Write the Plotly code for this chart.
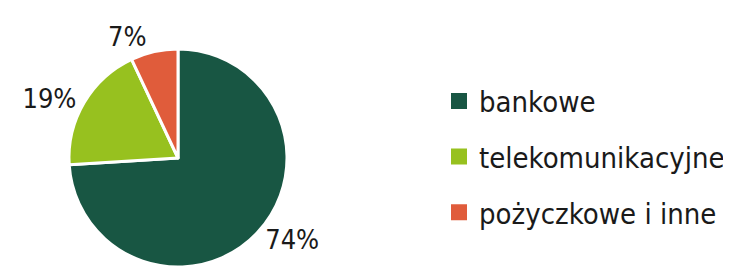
import plotly.graph_objects as go

categories = ["bankowe", "telekomunikacyjne", "pożyczkowe i inne"]
values = [74, 19, 7]
colors = ["#185643", "#97c11f", "#e05c3b"]

FONT = "DejaVu Sans Condensed, Roboto, sans-serif"

fig = go.Figure()
fig.add_trace(go.Pie(
    labels=categories, values=values, sort=False, direction="clockwise", rotation=0,
    marker=dict(colors=colors, line=dict(color="white", width=3)),
    textinfo="percent", texttemplate="%{percent:.0%}", textposition="outside",
    textfont=dict(size=27, color="#1a1a1a", family=FONT),
    showlegend=False, hoverinfo="label+percent",
    domain=dict(x=[61/731, 279/731], y=[13/272, 231/272]),
))
for cat, col in zip(categories, colors):
    fig.add_trace(go.Scatter(
        x=[None], y=[None], mode="markers", name=cat, legendgroup=cat,
        marker=dict(symbol="square", size=16, color=col),
    ))

fig.update_layout(
    width=731, height=272, margin=dict(l=0, r=0, t=0, b=0),
    paper_bgcolor="white", plot_bgcolor="white",
    xaxis=dict(visible=False), yaxis=dict(visible=False),
    legend=dict(x=431/731, y=0.452, xanchor="left", yanchor="middle",
                font=dict(size=29, color="#1a1a1a", family=FONT),
                tracegroupgap=15, itemwidth=30, bgcolor="rgba(0,0,0,0)"),
)
fig.write_html("out.html")
